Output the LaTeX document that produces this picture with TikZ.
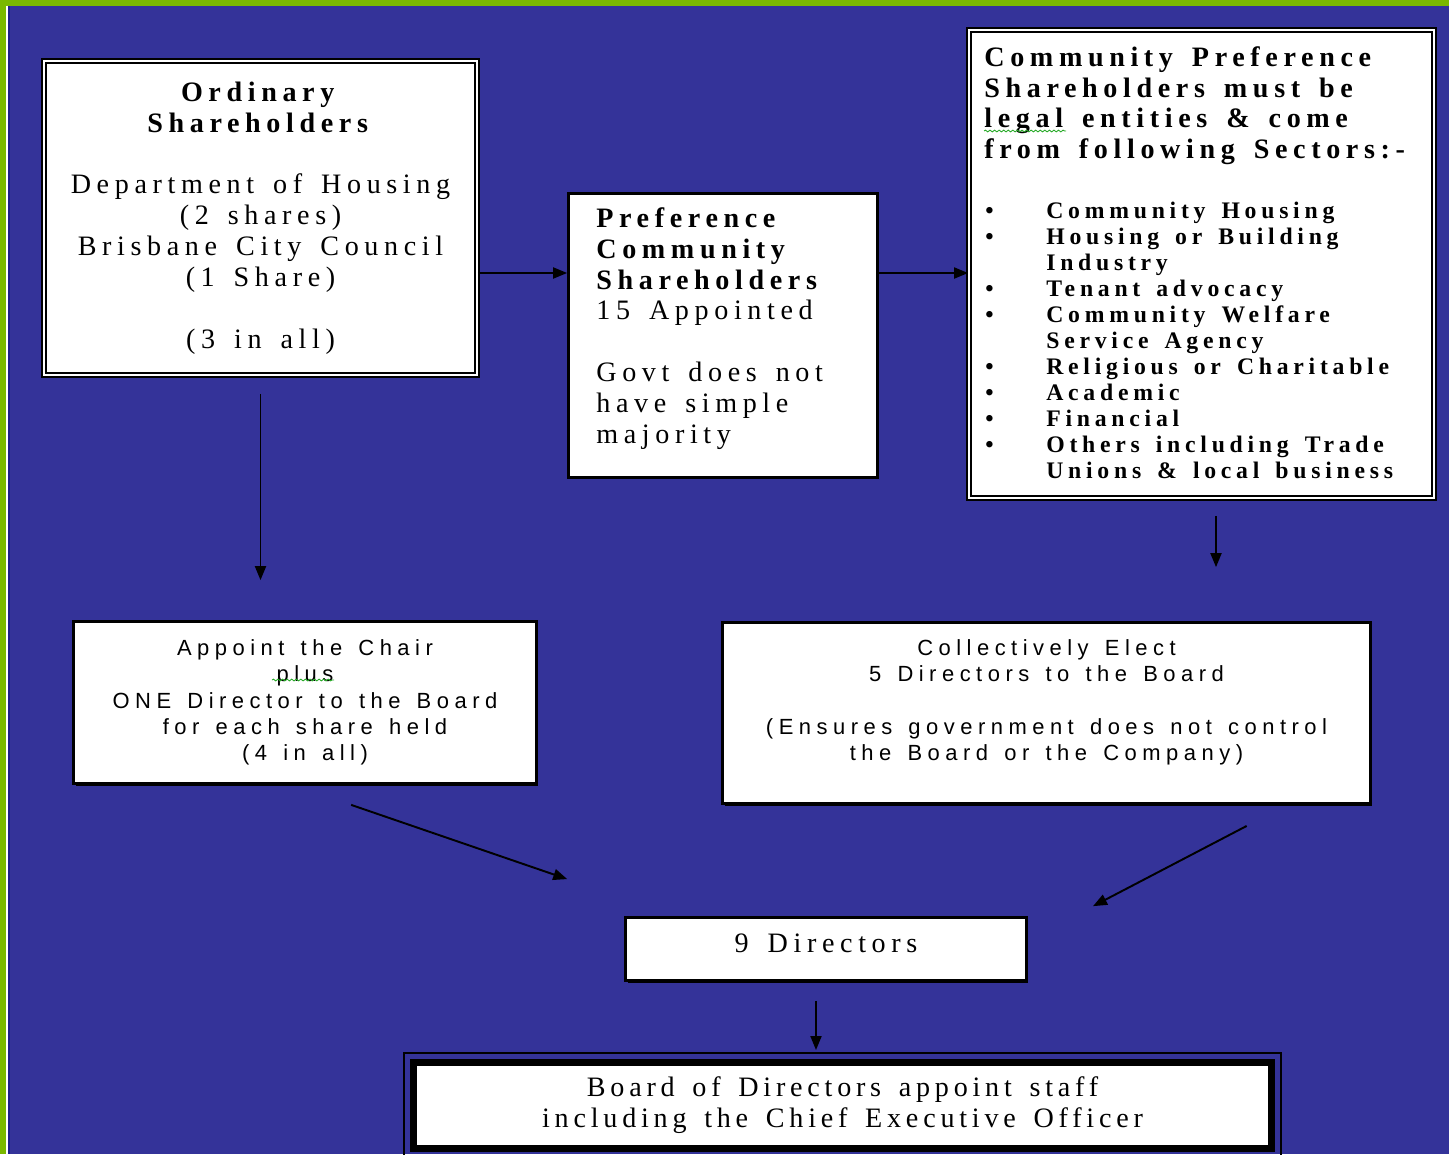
\documentclass[tikz,border=0pt]{standalone}
\usepackage{fontspec}
\setmainfont{Liberation Serif}[LetterSpace=20, WordSpace=1.5]
\newfontfamily\arialfont{Liberation Sans}[LetterSpace=25, WordSpace=1.4]
\usetikzlibrary{arrows.meta,shadows,decorations.pathmorphing}
\definecolor{slideblue}{RGB}{52,51,153}
\definecolor{slidegreen}{RGB}{122,184,0}
\definecolor{edgenavy}{RGB}{30,30,140}
\definecolor{spellgreen}{RGB}{40,170,40}
\tikzset{
  plain/.style   = {rectangle, draw=black, line width=1.6pt, fill=white,
                    drop shadow={shadow xshift=0.04cm, shadow yshift=-0.04cm, fill=black, opacity=1}},
  twoline/.style = {rectangle, draw=black, line width=1.1pt, double=white, double distance=1.1pt, fill=white,
                    drop shadow={shadow xshift=0.05cm, shadow yshift=-0.05cm, fill=black, opacity=1}},
  serif/.style   = {font=\fontsize{16}{17.6}\selectfont},
  sans/.style    = {font=\arialfont\fontsize{12.5}{15}\selectfont},
  flow/.style    = {-{Triangle[length=0.28cm,width=0.22cm]}, line width=1.1pt},
  spell/.style   = {spellgreen, line width=0.5pt, decorate, decoration={snake, amplitude=0.5pt, segment length=2.6pt}}
}

\begin{document}
\begin{tikzpicture}[x=0.02cm, y=-0.02cm]
  \useasboundingbox (0,0) rectangle (1449,1154);
  % slide background
  \fill[slideblue] (0,0) rectangle (1449,1154);
  \fill[slidegreen] (0,0) rectangle (1449,6);
  \fill[slidegreen] (0,0) rectangle (6,1154);
  \fill[white] (6,6) rectangle (7.5,1154);
  \fill[edgenavy] (8,6) rectangle (10,1154);

  % shareholders
  \node[twoline, serif, minimum width=8.66cm, minimum height=6.28cm, align=center] (ord) at (260.5,218)
    {\textbf{Ordinary}\\ \textbf{Shareholders}\\[17.6pt] Department of Housing\\ (2 shares)\\ Brisbane City Council\\ (1 Share)\\[17.6pt] (3 in all)};
  \node[plain, minimum width=6.18cm, minimum height=5.68cm] (pref) at (723,335.5) {};
  \node[serif, anchor=north west, inner sep=0, align=left] (preftext) at (596,207)
    {\textbf{Preference}\\ \textbf{Community}\\ \textbf{Shareholders}\\ 15 Appointed\\[17.6pt] Govt does not\\ have simple\\ majority};
  \node[twoline, minimum width=9.3cm, minimum height=9.36cm] (comm) at (1201.5,264) {};
  \node[font=\bfseries\fontsize{16}{17.6}\selectfont, anchor=north west, inner sep=0, align=left] (commhead) at (984,46)
    {Community Preference\\ Shareholders must be\\ legal entities \& come\\ from following Sectors:-};
  \node[font=\bfseries\fontsize{13.5}{14.8}\selectfont, anchor=north west, inner sep=0, align=left] (commlist) at (985,202)
    {\makebox[1.22cm][l]{\textbullet}Community Housing\\
     \makebox[1.22cm][l]{\textbullet}Housing or Building\\
     \makebox[1.22cm][l]{}Industry\\
     \makebox[1.22cm][l]{\textbullet}Tenant advocacy\\
     \makebox[1.22cm][l]{\textbullet}Community Welfare\\
     \makebox[1.22cm][l]{}Service Agency\\
     \makebox[1.22cm][l]{\textbullet}Religious or Charitable\\
     \makebox[1.22cm][l]{\textbullet}Academic\\
     \makebox[1.22cm][l]{\textbullet}Financial\\
     \makebox[1.22cm][l]{\textbullet}Others including Trade\\
     \makebox[1.22cm][l]{}Unions \& local business};

  % directors
  \node[plain, sans, minimum width=9.26cm, minimum height=3.24cm, align=center] (appt) at (305,702.5)
    {Appoint the Chair\\ plus\\ ONE Director to the Board\\ for each share held\\ (4 in all)};
  \node[plain, sans, minimum width=12.96cm, minimum height=3.62cm, align=center] (elect) at (1046.5,713)
    {Collectively Elect\\ 5 Directors to the Board\\[15pt] (Ensures government does not control\\ the Board or the Company)\\ \mbox{}};
  \node[plain, serif, minimum width=8.02cm, minimum height=1.26cm, text depth=0.25cm] (nine) at (826,949) {9 Directors};
  \node[rectangle, draw=black, line width=0.14cm, fill=white, minimum width=17.16cm, minimum height=1.72cm,
        font=\addfontfeatures{LetterSpace=17}\fontsize{16}{17.6}\selectfont, align=center] (board) at (842.5,1105.5)
    {Board of Directors appoint staff\\ including the Chief Executive Officer};
  \draw[line width=0.7pt] ([shift={(-0.12cm,0.12cm)}]board.north west) rectangle ([shift={(0.12cm,-0.12cm)}]board.south east);

  % spelling marks
  \draw[spell] (984,131) -- (1066,131);
  \draw[spell] (272,680) -- (334,680);

  % arrows
  \draw[flow] ([yshift=-1.1cm]ord.east) -- ([yshift=-1.1cm]ord.east -| pref.west);
  \draw[flow] ([yshift=1.25cm]pref.east) -- ([yshift=1.25cm]pref.east -| comm.west);
  \draw[flow, shorten <=0.36cm, shorten >=0.8cm] (ord.south) -- (ord.south |- appt.north);
  \draw[flow, shorten <=0.34cm, shorten >=1.08cm] ([xshift=0.29cm]comm.south) -- ([xshift=0.29cm]comm.south |- elect.north);
  \draw[flow, shorten <=1.23cm, shorten >=2.28cm] ([xshift=-0.24cm]appt.south) -- ([xshift=-3.02cm]nine.north);
  \draw[flow, shorten <=0.91cm, shorten >=0.43cm] ([xshift=4.81cm]elect.south) -- ([xshift=4.96cm]nine.north);
  \draw[flow, shorten <=0.38cm, shorten >=0.18cm] ([xshift=-0.2cm]nine.south) -- ([xshift=-0.2cm]nine.south |- board.north);
\end{tikzpicture}
\end{document}
